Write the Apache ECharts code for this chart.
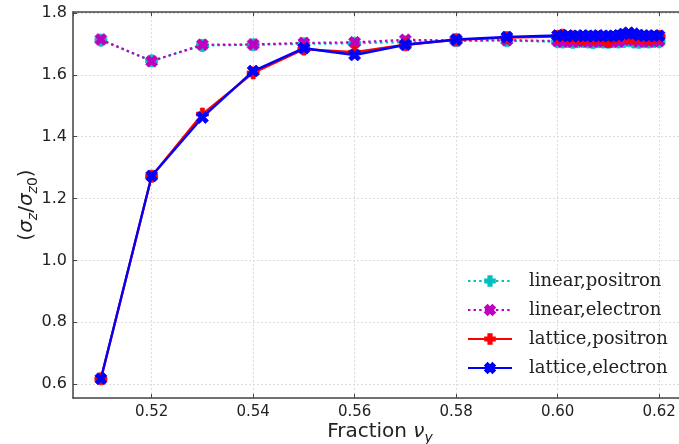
<!DOCTYPE html>
<html>
<head>
<meta charset="utf-8">
<script src="https://cdn.jsdelivr.net/npm/echarts@6/dist/echarts.min.js"></script>
<style>
  html, body { margin: 0; padding: 0; background: #ffffff; }
  #chart { width: 679px; height: 444px; }
</style>
</head>
<body>
<div id="chart"></div>
<script>
// Fractional tune ν_y scanned
const nu = [
  0.51, 0.52, 0.53, 0.54, 0.55, 0.56, 0.57, 0.58, 0.59,
  0.600, 0.601, 0.602, 0.603, 0.604, 0.605, 0.606, 0.607, 0.608, 0.609, 0.610,
  0.611, 0.612, 0.613, 0.614, 0.615, 0.616, 0.617, 0.618, 0.619, 0.620
];

// Bunch length ratio σz/σz0 for each model and species
const linearPositron = [
  1.712, 1.645, 1.695, 1.697, 1.700, 1.702, 1.706, 1.710, 1.710,
  1.707, 1.706, 1.708, 1.705, 1.707, 1.708, 1.706, 1.704, 1.707, 1.706, 1.705,
  1.707, 1.706, 1.708, 1.710, 1.706, 1.705, 1.707, 1.706, 1.708, 1.707
];
const linearElectron = [
  1.714, 1.644, 1.697, 1.698, 1.703, 1.705, 1.713, 1.711, 1.712,
  1.709, 1.708, 1.710, 1.707, 1.709, 1.710, 1.708, 1.707, 1.709, 1.708, 1.707,
  1.709, 1.708, 1.713, 1.716, 1.712, 1.708, 1.709, 1.708, 1.710, 1.709
];
const latticePositron = [
  0.617, 1.272, 1.473, 1.606, 1.683, 1.673, 1.697, 1.713, 1.720,
  1.724, 1.728, 1.720, 1.722, 1.719, 1.716, 1.721, 1.718, 1.722, 1.717, 1.708,
  1.720, 1.724, 1.726, 1.722, 1.719, 1.723, 1.720, 1.718, 1.721, 1.724
];
const latticeElectron = [
  0.617, 1.273, 1.462, 1.612, 1.686, 1.664, 1.697, 1.714, 1.722,
  1.727, 1.726, 1.727, 1.725, 1.726, 1.727, 1.726, 1.725, 1.727, 1.726, 1.725,
  1.726, 1.727, 1.732, 1.736, 1.733, 1.728, 1.727, 1.726, 1.727, 1.726
];

const seriesNames = ['linear,positron', 'linear,electron', 'lattice,positron', 'lattice,electron'];

// filled plus ("P") and filled cross ("X") markers
const PLUS = 'path://M-1,-3L1,-3L1,-1L3,-1L3,1L1,1L1,3L-1,3L-1,1L-3,1L-3,-1L-1,-1Z';
const CROSS = 'path://M2,-4L4,-2L2,0L4,2L2,4L0,2L-2,4L-4,2L-2,0L-4,-2L-2,-4L0,-2Z';

const pairs = arr => nu.map((x, i) => [x, arr[i]]);

const axisColor = '#444444';
const gridStyle = { color: '#dddddd', type: [2, 2], width: 1 };

function lineSeries(name, data, color, symbol, dotted, z) {
  return {
    name: name,
    type: 'line',
    data: pairs(data),
    symbol: symbol,
    symbolSize: 12,
    showAllSymbol: true,
    z: z,
    itemStyle: { color: color, borderColor: color, borderWidth: 0.8 },
    lineStyle: dotted
      ? { color: color, width: 2.2, type: [2.4, 3.2] }
      : { color: color, width: 2.4, type: 'solid' },
    emphasis: { disabled: true },
    animation: false
  };
}

const txt = { fontFamily: 'DejaVu Sans', color: '#222222', lineHeight: 26 };

const chart = echarts.init(document.getElementById('chart'), null, { renderer: 'canvas' });

chart.setOption({
  backgroundColor: '#ffffff',
  animation: false,
  // the frame runs past the right edge of the canvas
  grid: { left: 73, top: 12, right: -8, bottom: 46, outerBoundsMode: 'none', containLabel: false },
  legend: {
    orient: 'vertical',
    left: 462,
    top: 266,
    itemWidth: 44,
    itemHeight: 12,
    itemGap: 9,
    data: seriesNames,
    textStyle: {
      fontFamily: 'DejaVu Serif',
      fontSize: 18,
      color: '#222222',
      lineHeight: 20,
      padding: [0, 0, 0, 12]
    }
  },
  xAxis: [
    {
      type: 'value',
      min: 0.5045,
      max: 0.6255,
      minInterval: 0.02,
      maxInterval: 0.02,
      name: '{n|Fraction }{i|ν}{s|y}',
      nameLocation: 'middle',
      nameGap: 21,
      nameMoveOverlap: false,
      nameTextStyle: {
        rich: {
          n: Object.assign({ fontSize: 20, verticalAlign: 'middle' }, txt),
          i: Object.assign({ fontSize: 20, fontStyle: 'italic', verticalAlign: 'middle' }, txt),
          s: Object.assign({ fontSize: 14, fontStyle: 'italic', verticalAlign: 'bottom' }, txt)
        }
      },
      axisLine: { show: true, lineStyle: { color: axisColor, width: 1.5 } },
      axisTick: { show: true, inside: true, length: 4, lineStyle: { color: axisColor } },
      axisLabel: {
        showMinLabel: false,
        showMaxLabel: false,
        margin: 7,
        fontFamily: 'DejaVu Sans',
        fontSize: 15,
        color: '#222222',
        formatter: v => v.toFixed(2)
      },
      splitLine: { show: true, lineStyle: gridStyle }
    },
    {
      type: 'value',
      position: 'top',
      min: 0.5045,
      max: 0.6255,
      minInterval: 0.02,
      maxInterval: 0.02,
      axisLine: { show: true, lineStyle: { color: axisColor, width: 1.5 } },
      axisTick: { show: true, inside: true, length: 4, lineStyle: { color: axisColor } },
      axisLabel: { show: false },
      splitLine: { show: false }
    }
  ],
  yAxis: {
    type: 'value',
    min: 0.555,
    max: 1.803,
    minInterval: 0.2,
    maxInterval: 0.2,
    name: '{p|(}{g|σ}{s|z}{p|/}{g|σ}{s|z}{d|0}{p|)}',
    nameLocation: 'middle',
    nameRotate: 90,
    nameGap: 33,
    nameMoveOverlap: false,
    nameTextStyle: {
      rich: {
        p: Object.assign({ fontSize: 20, verticalAlign: 'middle' }, txt),
        g: Object.assign({ fontSize: 20, fontStyle: 'italic', verticalAlign: 'middle' }, txt),
        s: Object.assign({ fontSize: 14, fontStyle: 'italic', verticalAlign: 'bottom' }, txt),
        d: Object.assign({ fontSize: 14, verticalAlign: 'bottom' }, txt)
      }
    },
    axisLine: { show: true, lineStyle: { color: axisColor, width: 1.5 } },
    axisTick: { show: true, inside: true, length: 4, lineStyle: { color: axisColor } },
    axisLabel: {
      showMinLabel: false,
      showMaxLabel: false,
      margin: 6,
      fontFamily: 'DejaVu Sans',
      fontSize: 16,
      color: '#222222',
      formatter: v => v.toFixed(1)
    },
    splitLine: { show: true, lineStyle: gridStyle }
  },
  series: [
    lineSeries(seriesNames[0], linearPositron, '#00bfbf', PLUS, true, 2),
    lineSeries(seriesNames[1], linearElectron, '#bf00bf', CROSS, true, 3),
    lineSeries(seriesNames[2], latticePositron, '#ff0000', PLUS, false, 4),
    lineSeries(seriesNames[3], latticeElectron, '#0000ff', CROSS, false, 5)
  ]
});
</script>
</body>
</html>
